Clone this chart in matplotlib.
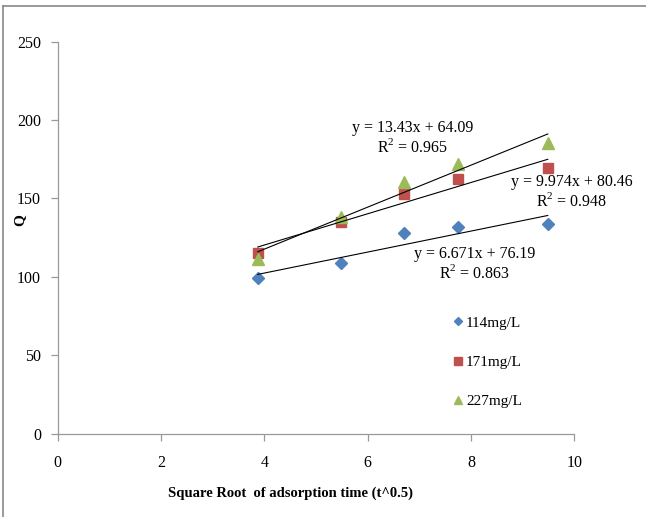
import numpy as np
import matplotlib
matplotlib.use('Agg')
from matplotlib import pyplot as plt
from matplotlib.lines import Line2D

# data
sqrt_t = [3.873, 5.477, 6.708, 7.746, 9.487]
q_114 = [99.2, 108.8, 127.9, 131.7, 133.6]
q_171 = [115.1, 134.9, 152.7, 162.2, 169.2]
q_227 = [111.3, 138.0, 160.3, 171.8, 185.1]

labels = ['114mg/L', '171mg/L', '227mg/L']
eq_texts = ['y = 6.671x + 76.19\nR$^2$ = 0.863',
            'y = 9.974x + 80.46\nR$^2$ = 0.948',
            'y = 13.43x + 64.09\nR$^2$ = 0.965']
colors = ['#4F81BD', '#C0504D', '#9BBB59']
markers = ['D', 's', '^']
msizes = [6, 7.5, 8]

plt.rcParams['font.family'] = ['Liberation Serif', 'DejaVu Serif']
plt.rcParams['mathtext.fontset'] = 'custom'
plt.rcParams['mathtext.rm'] = 'Liberation Serif'

fig = plt.figure(figsize=(6.46, 5.17), dpi=100)
ax = fig.add_axes([57.7 / 646, 1 - 433.7 / 517, (574.3 - 57.7) / 646, (433.7 - 41.7) / 517])

series = [q_114, q_171, q_227]
for ys, lab, c, m, ms in zip(series, labels, colors, markers, msizes):
    ax.plot(sqrt_t, ys, linestyle='none', marker=m, ms=ms, color=c, label=lab)

# linear trendlines
for ys in series:
    k, b = np.polyfit(sqrt_t, ys, 1)
    xx = np.array([sqrt_t[0], sqrt_t[-1]])
    ax.plot(xx, k * xx + b, color='black', lw=0.8)

# trendline equations (placed in pixel positions of the original)
eq_pos = [(474.5, 264), (571.5, 192), (412.5, 138)]
for txt, (px, py) in zip(eq_texts, eq_pos):
    fig.text(px / 646, 1 - py / 517, txt, ha='center', va='center',
             fontsize=11.5, linespacing=1.15)

ax.set_xlim(0, 10)
ax.set_ylim(0, 250)
ax.set_xticks(range(0, 11, 2))
ax.set_yticks(range(0, 251, 50))
for s in ['top', 'right']:
    ax.spines[s].set_visible(False)
for s in ['left', 'bottom']:
    ax.spines[s].set_color('#999999')
    ax.spines[s].set_linewidth(0.9)
ax.tick_params(axis='both', colors='#999999', labelcolor='black', labelsize=11.5, length=5, width=0.9)
ax.tick_params(axis='x', pad=10)
ax.tick_params(axis='y', pad=7)

fig.text(291 / 646, 1 - 493 / 517, 'Square Root  of adsorption time (t^0.5)',
         ha='center', va='center', fontsize=10.5, fontweight='bold')
fig.text(20 / 646, 1 - 220 / 517, 'Q', ha='center', va='center',
         rotation=90, fontsize=11, fontweight='bold')

ax.legend(loc='upper left', bbox_to_anchor=(453 / 646, 1 - 316 / 517),
          bbox_transform=fig.transFigure, frameon=False, fontsize=11,
          handlelength=0.6, handletextpad=0.25, labelspacing=1.68,
          borderaxespad=0, borderpad=0, markerscale=0.75)

# chart border (only top and left edges are inside the picture)
fig.add_artist(Line2D([3 / 646, 1], [1 - 5.5 / 517, 1 - 5.5 / 517], color='#888888', lw=1.2))
fig.add_artist(Line2D([3 / 646, 3 / 646], [0, 1 - 5.5 / 517], color='#888888', lw=1.2))

fig.savefig('out.png', dpi=100)
